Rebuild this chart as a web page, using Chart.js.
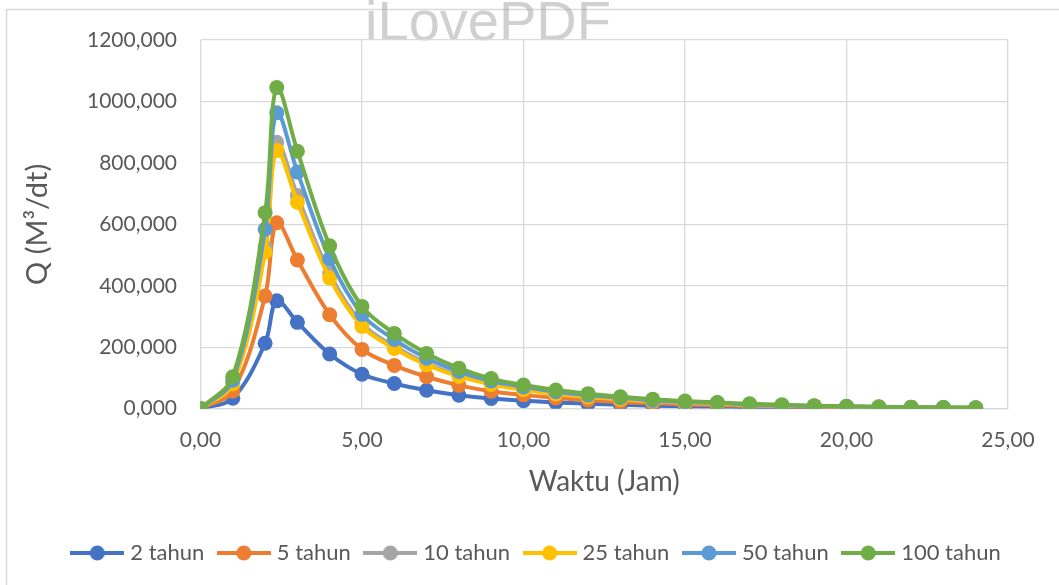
<!DOCTYPE html>
<html>
<head>
<meta charset="utf-8">
<script src="https://cdn.jsdelivr.net/npm/chart.js@4/dist/chart.umd.min.js"></script>
<style>
  html, body { margin: 0; padding: 0; background: #fff; }
  #wrap { width: 1059px; height: 585px; position: relative; }
</style>
</head>
<body>
<div id="wrap"><canvas id="myChart"></canvas></div>
<script>
// data
var waktu = [0, 1, 2, 2.36, 3, 4, 5, 6, 7, 8, 9, 10, 11, 12, 13, 14, 15, 16, 17, 18, 19, 20, 21, 22, 23, 24];
var q2   = [0, 34, 213, 351, 281, 178, 112, 82, 60, 44, 33, 26, 20, 16, 13, 10, 8, 7, 5, 4, 3.4, 2.7, 2.0, 1.7, 1.3, 1.0];
var q5   = [0, 58, 367, 605, 484, 306, 193, 141, 104, 76, 57, 45, 35, 28, 22, 18, 14, 12, 9, 7, 6, 5, 3.5, 3, 2.3, 1.7];
var q10  = [0, 84, 526, 867, 694, 440, 277, 203, 148, 109, 82, 64, 49, 40, 32, 25, 20, 17, 12, 10, 8, 7, 5, 4, 3.2, 2.5];
var q25  = [0, 81, 509, 840, 672, 425, 268, 196, 143, 105, 79, 62, 48, 38, 31, 24, 19, 16, 12, 10, 8, 6, 5, 4, 3.1, 2.4];
var q50  = [0, 93, 584, 963, 770, 488, 307, 225, 164, 121, 90, 71, 55, 44, 36, 27, 22, 19, 14, 11, 9, 7, 5.5, 4.5, 3.5, 2.7];
var q100 = [0, 104, 638, 1045, 838, 530, 333, 245, 180, 132, 98, 77, 61, 49, 39, 31, 25, 20, 16, 13, 10, 8, 6, 5, 4, 3];
var seriesNames = ['2 tahun', '5 tahun', '10 tahun', '25 tahun', '50 tahun', '100 tahun'];
var seriesData = [q2, q5, q10, q25, q50, q100];
var colors = ['#4472C4', '#ED7D31', '#A5A5A5', '#FFC000', '#5B9BD5', '#70AD47'];

var FONT = 'Lato';
var TXT = '#595959';

function fmt(v, d){ return v.toFixed(d).replace('.', ','); }

// legend marker: line with a dot
function legendIcon(color){
  var c = document.createElement('canvas');
  c.width = 54; c.height = 18;
  var g = c.getContext('2d');
  g.strokeStyle = color; g.lineWidth = 4;
  g.beginPath(); g.moveTo(0, 9); g.lineTo(54, 9); g.stroke();
  g.fillStyle = color;
  g.beginPath(); g.arc(27, 9, 7.5, 0, Math.PI * 2); g.fill();
  return c;
}

var datasets = seriesNames.map(function(name, i){
  return {
    label: name,
    data: waktu.map(function(x, k){ return {x: x, y: seriesData[i][k]}; }),
    borderColor: colors[i],
    backgroundColor: colors[i],
    borderWidth: 4,
    pointRadius: 7.5,
    pointHoverRadius: 7.5,
    pointBorderWidth: 0,
    tension: 0.35,
    order: 6 - i,
    fill: false
  };
});

var frame = {
  id: 'frame',
  beforeDraw: function(chart){
    var c = chart.ctx;
    c.save();
    c.fillStyle = '#fff';
    c.fillRect(0, 0, chart.width, chart.height);
    c.strokeStyle = '#d9d9d9'; c.lineWidth = 1.5;
    c.strokeRect(6.5, 9.5, 1200, 700);
    c.fillStyle = 'rgba(170,170,170,0.55)';
    c.font = '56px "Liberation Sans"';
    c.textAlign = 'center'; c.textBaseline = 'alphabetic';
    c.fillText('iLovePDF', 488, 40);
    c.restore();
  }
};

var ctx = document.getElementById('myChart').getContext('2d');
var myChart = new Chart(ctx, {
  type: 'line',
  data: { datasets: datasets },
  plugins: [frame],
  options: {
    responsive: true,
    maintainAspectRatio: false,
    animation: false,
    layout: { padding: { left: 34, right: 17, top: 40, bottom: 11 } },
    plugins: {
      tooltip: { enabled: false },
      legend: {
        position: 'bottom',
        labels: {
          usePointStyle: true,
          pointStyleWidth: 44,
          padding: 17.5,
          color: TXT,
          font: { family: FONT, size: 22 },
          sort: function(a, b){ return a.datasetIndex - b.datasetIndex; },
          generateLabels: function(chart){
            var items = Chart.defaults.plugins.legend.labels.generateLabels(chart);
            items.forEach(function(it){ it.pointStyle = legendIcon(colors[it.datasetIndex]); });
            return items;
          }
        }
      }
    },
    scales: {
      x: {
        type: 'linear',
        min: 0, max: 25,
        afterFit: function(s){ s.height = 115.8; },
        ticks: {
          stepSize: 5, padding: 19, color: TXT,
          font: { family: FONT, size: 21 },
          callback: function(v){ return fmt(v, 2); }
        },
        grid: { color: '#d9d9d9', lineWidth: 1.3, drawTicks: false },
        border: { color: '#d9d9d9', width: 1.3 },
        title: {
          display: true, text: 'Waktu (Jam)', color: TXT,
          font: { family: FONT, size: 28 },
          padding: { top: 0, bottom: 25.7 }
        }
      },
      y: {
        min: 0, max: 1200,
        afterFit: function(s){ s.width = 166.5; },
        ticks: {
          stepSize: 200, padding: 23.5, color: TXT,
          font: { family: FONT, size: 21 },
          callback: function(v){ return fmt(v, 3); }
        },
        grid: { color: '#d9d9d9', lineWidth: 1.3, drawTicks: false },
        border: { display: false },
        title: {
          display: true, text: 'Q (M³/dt)', color: TXT,
          font: { family: FONT, size: 29 },
          padding: { top: -13.4, bottom: 0 }
        }
      },
      // empty right-hand spacer so the plot ends where it does in the original
      spacer: {
        position: 'right',
        min: 0, max: 1,
        afterFit: function(s){ s.width = 34; },
        ticks: { display: false },
        grid: { display: false, drawTicks: false },
        border: { display: false }
      }
    }
  }
});
</script>
</body>
</html>
